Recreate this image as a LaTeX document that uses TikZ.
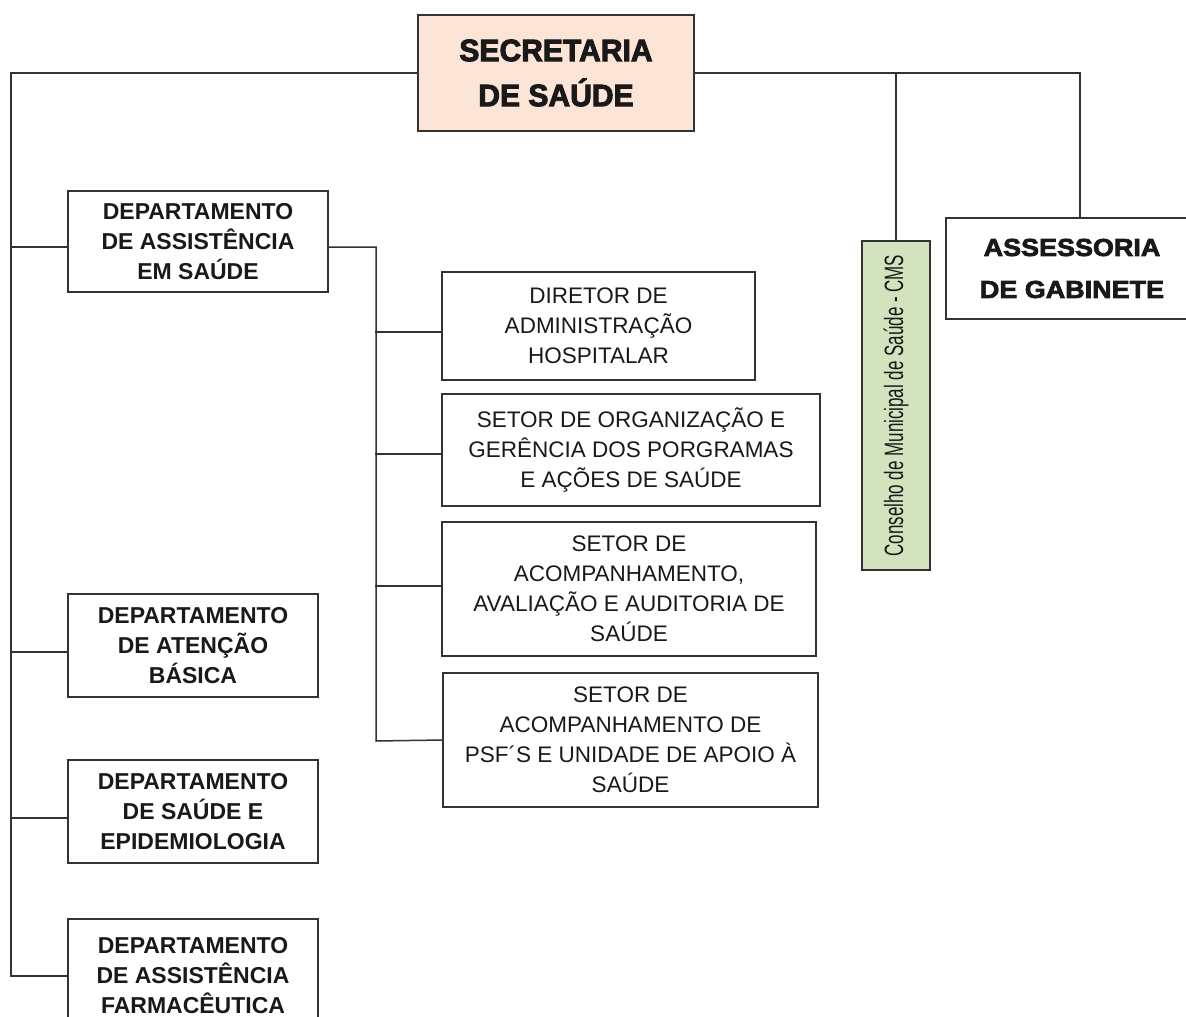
\documentclass[tikz,border=0pt]{standalone}
\usepackage{fontspec}
\setmainfont{Liberation Sans}
\newfontfamily\heavyfont[FakeBold=3,FakeStretch=0.97]{Liberation Sans Bold}
\newfontfamily\assessfont[FakeBold=3,FakeStretch=1.1]{Liberation Sans Bold}
\newfontfamily\cmsfont[FakeStretch=0.64]{Liberation Sans}
\definecolor{peach}{HTML}{FCE4D6}
\definecolor{cmsgreen}{HTML}{D3E3BD}
\definecolor{linec}{HTML}{333333}
\begin{document}
\begin{tikzpicture}[x=1pt,y=-1pt,
  conn/.style={draw=linec, line width=1.5pt},
  box/.style={draw=linec, line width=1.5pt, fill=white, inner sep=0pt, align=center, text=black!90,
    font=\fontsize{22.5}{30}\selectfont},
  bbox/.style={box, font=\fontsize{23}{30}\selectfont\bfseries},
]
\useasboundingbox (0,0) rectangle (1186,1017);
\clip (0,0) rectangle (1186,1017);

% nodes
\node[box, minimum width=276, minimum height=116, fill=peach,
      font=\heavyfont\fontsize{31}{45}\selectfont] (sec) at (556,73) {SECRETARIA\\DE SAÚDE};

\node[bbox, minimum width=260, minimum height=101] (dassist) at (198,241.5) {DEPARTAMENTO\\DE ASSISTÊNCIA\\EM SAÚDE};
\node[bbox, minimum width=250, minimum height=103] (datenc) at (193,645.5) {DEPARTAMENTO\\DE ATENÇÃO\\BÁSICA};
\node[bbox, minimum width=250, minimum height=103] (dsaude) at (193,811.5) {DEPARTAMENTO\\DE SAÚDE E\\EPIDEMIOLOGIA};
\node[bbox, minimum width=250, minimum height=114] (farm) at (193,976) {DEPARTAMENTO\\DE ASSISTÊNCIA\\FARMACÊUTICA};

\node[box, minimum width=313, minimum height=108] (dir) at (598.5,326) {DIRETOR DE\\ADMINISTRAÇÃO\\HOSPITALAR};
\node[box, minimum width=378, minimum height=112] (org) at (631,450) {SETOR DE ORGANIZAÇÃO E\\GERÊNCIA DOS PORGRAMAS\\E AÇÕES DE SAÚDE};
\node[box, minimum width=374, minimum height=134] (acomp) at (629,589) {SETOR DE\\ACOMPANHAMENTO,\\AVALIAÇÃO E AUDITORIA DE\\SAÚDE};
\node[box, minimum width=375, minimum height=134] (psf) at (630.5,740) {SETOR DE\\ACOMPANHAMENTO DE\\PSF´S E UNIDADE DE APOIO À\\SAÚDE};

\node[box, fill=cmsgreen, rotate=90, minimum width=329, minimum height=68,
      font=\cmsfont\fontsize{26.5}{28}\selectfont] (cms) at (896,405.5)
      {\raisebox{-1pt}{Conselho de Municipal de Saúde - CMS}};
\node[box, minimum width=252, minimum height=101,
      font=\assessfont\fontsize{24.5}{42}\selectfont] (assess) at (1072,268.5) {ASSESSORIA\\DE GABINETE};

% coordinates for bends
\coordinate (trunkend) at (11,976);
\coordinate (subtop) at (376,247);
\coordinate (subbot) at (376,741);
\coordinate (atop) at (1080,218);

% left trunk
\draw[conn] (sec.west) -| (trunkend) -- (farm.west);
\draw[conn] ([yshift=-5.5pt]dassist.west) -- ++(-57,0);
\draw[conn] ([yshift=-6.5pt]datenc.west) -- ++(-57,0);
\draw[conn] ([yshift=-6.5pt]dsaude.west) -- ++(-57,0);

% sub tree
\draw[conn] ([yshift=-5.5pt]dassist.east) -- (subtop) -- (subbot) -- (psf.west);
\draw[conn] ([yshift=-6pt]dir.west) -- ++(-66,0);
\draw[conn] ([yshift=-4pt]org.west) -- ++(-66,0);
\draw[conn] ([yshift=3pt]acomp.west) -- ++(-66,0);

% right side
\draw[conn] (sec.east) -| (atop);
\draw[conn] (cms.east) -- (cms.east |- sec.east);
\end{tikzpicture}
\end{document}
